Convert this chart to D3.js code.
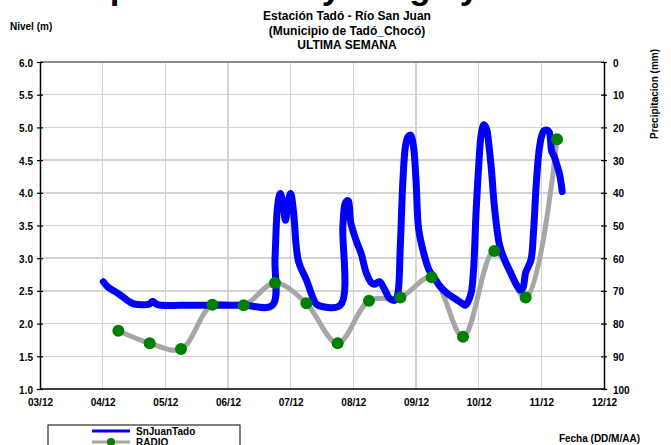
<!DOCTYPE html>
<meta charset="utf-8">
<style>
body { margin: 0; background: #fff; }
text { font-family: "Liberation Sans", Arial, sans-serif; font-weight: bold; fill: #000; }
.grid line { stroke: #d4d4d4; stroke-width: 1.5px; shape-rendering: crispEdges; }
</style>
<body>
<div id="draw"></div>
<script src="https://d3js.org/d3.v7.min.js"></script>
<script>

// fechas limites del eje (DD/MM HH:MM)
var fechaIni = "03/12 00:00",
    fechaFin = "12/12 00:00";

var fechaTicks = ["03/12","04/12","05/12","06/12","07/12","08/12","09/12","10/12","11/12","12/12"];
var nivelTicks = [1.0,1.5,2.0,2.5,3.0,3.5,4.0,4.5,5.0,5.5,6.0];
var precTicks = [0,10,20,30,40,50,60,70,80,90,100];

// SnJuanTado - nivel (m)
var snJuanFecha = [
  "04/12 00:15","04/12 02:00","04/12 06:00","04/12 10:00","04/12 12:00","04/12 18:00","04/12 19:00","04/12 21:00",
  "05/12 06:00","05/12 18:00","06/12 06:00","06/12 17:00","06/12 18:00","06/12 19:00","06/12 20:00","06/12 21:00",
  "06/12 22:00","06/12 23:00","07/12 00:00","07/12 01:00","07/12 03:00","07/12 06:00","07/12 08:00","07/12 09:00",
  "07/12 10:00","07/12 19:00","07/12 20:00","07/12 21:00","07/12 22:00","07/12 23:00","08/12 01:00","08/12 03:00",
  "08/12 05:00","08/12 07:00","08/12 08:00","08/12 10:00","08/12 12:00","08/12 14:00","08/12 16:00","08/12 17:00",
  "08/12 18:00","08/12 19:00","08/12 20:00","08/12 21:00","08/12 22:00","08/12 23:00","09/12 00:00","09/12 01:00",
  "09/12 03:00","09/12 05:00","09/12 07:00","09/12 09:00","09/12 12:00","09/12 15:00","09/12 18:00","09/12 19:00",
  "09/12 21:00","09/12 22:00","09/12 23:00","10/12 00:00","10/12 01:00","10/12 02:00","10/12 03:00","10/12 04:00",
  "10/12 05:00","10/12 06:00","10/12 08:00","10/12 10:00","10/12 12:00","10/12 14:00","10/12 16:00","10/12 17:00",
  "10/12 18:00","10/12 20:00","10/12 21:00","10/12 22:00","10/12 23:00","11/12 00:00","11/12 01:00","11/12 02:00",
  "11/12 03:00","11/12 04:00","11/12 05:00","11/12 06:00","11/12 07:00","11/12 08:00"
];
var snJuanNivel = [
  2.64,2.56,2.46,2.34,2.30,2.30,2.34,2.29,
  2.28,2.28,2.28,2.28,3.00,3.80,3.99,3.85,
  3.58,3.85,3.99,3.75,2.95,2.67,2.45,2.35,
  2.29,2.28,3.50,3.85,3.88,3.55,3.28,3.07,
  2.77,2.62,2.60,2.64,2.52,2.38,2.36,2.45,
  3.20,4.20,4.72,4.86,4.88,4.72,4.20,3.45,
  3.07,2.82,2.70,2.58,2.46,2.38,2.30,2.28,
  2.45,2.80,3.70,4.40,4.90,5.04,4.98,4.70,
  4.30,3.80,3.20,2.97,2.80,2.63,2.51,2.55,
  2.78,2.97,3.40,4.10,4.60,4.85,4.95,4.96,
  4.93,4.63,4.55,4.42,4.28,4.02
];

// RADIO - nivel (m)
var radioFecha = [
  "04/12 06:00","04/12 18:00","05/12 06:00","05/12 18:00","06/12 06:00","06/12 18:00","07/12 06:00","07/12 18:00",
  "08/12 06:00","08/12 18:00","09/12 06:00","09/12 18:00","10/12 06:00","10/12 18:00","11/12 06:00"
];
var radioNivel = [1.89,1.70,1.61,2.29,2.28,2.62,2.31,1.70,2.35,2.40,2.71,1.80,3.11,2.40,4.82];

var parse = d3.timeParse("%d/%m %H:%M");

var margin = {top: 62, right: 67, bottom: 56, left: 40},
    width = 671 - margin.left - margin.right,
    height = 445 - margin.top - margin.bottom;

var svg = d3.select("#draw").append("svg")
    .attr("width", 671)
    .attr("height", 445);

var x = d3.scaleTime()
    .domain([parse(fechaIni), parse(fechaFin)])
    .range([0, width]);
var y = d3.scaleLinear().domain([1, 6]).range([height, 0]);
var yR = d3.scaleLinear().domain([0, 100]).range([0, height]);

// titulo superior (cortado por el borde)
svg.append("text")
    .attr("x", 32).attr("y", -1)
    .style("font-size", "35px")
    .text("Comportamiento y Carga y Nivel");

var title = ["Estación Tadó - Río San Juan", "(Municipio de Tadó_Chocó)", "ULTIMA SEMANA"];
svg.selectAll(".title")
    .data(title)
  .enter().append("text")
    .attr("class", "title")
    .attr("x", 347)
    .attr("y", function(d, i) { return 20 + i * 14.5; })
    .style("text-anchor", "middle")
    .style("font-size", "12px")
    .text(function(d) { return d; });

svg.append("text")
    .attr("x", 10).attr("y", 30)
    .style("font-size", "10px")
    .text("Nivel (m)");

svg.append("text")
    .attr("transform", "translate(658,94) rotate(-90)")
    .style("text-anchor", "middle")
    .style("font-size", "10px")
    .text("Precipitacion (mm)");

svg.append("text")
    .attr("x", 640).attr("y", 442)
    .style("text-anchor", "end")
    .style("font-size", "10px")
    .text("Fecha (DD/M/AA)");

var g = svg.append("g")
    .attr("transform", "translate(" + margin.left + "," + margin.top + ")");

// grid
var grid = g.append("g").attr("class", "grid");
grid.selectAll(".gy")
    .data(nivelTicks.slice(1, -1))
  .enter().append("line")
    .attr("x1", 0).attr("x2", width)
    .attr("y1", function(d) { return y(d); })
    .attr("y2", function(d) { return y(d); });
grid.selectAll(".gx")
    .data(fechaTicks.slice(1, -1))
  .enter().append("line")
    .attr("x1", function(d) { return x(parse(d + " 00:00")); })
    .attr("x2", function(d) { return x(parse(d + " 00:00")); })
    .attr("y1", 0).attr("y2", height);

g.append("line")
    .attr("x1", 0).attr("x2", width)
    .attr("y1", 0).attr("y2", 0)
    .attr("stroke", "#8c8c8c").attr("stroke-width", 2);

// axes
var yAxis = d3.axisLeft(y).tickValues(nivelTicks).tickFormat(d3.format(".1f")).tickSizeInner(3).tickSizeOuter(0);
var yAxisR = d3.axisRight(yR).tickValues(precTicks).tickFormat(d3.format("d")).tickSizeInner(3).tickSizeOuter(0);
var xAxis = d3.axisBottom(x)
    .tickValues(fechaTicks.map(function(d) { return parse(d + " 00:00"); }))
    .tickFormat(d3.timeFormat("%d/%m")).tickSize(0);

function styleAxis(sel) {
  sel.select(".domain").attr("stroke", "#000").attr("stroke-width", 1.5);
  sel.selectAll(".tick line").attr("stroke", "#000").attr("stroke-width", 1.2);
  sel.selectAll("text").style("font-size", "10px").style("font-weight", "bold")
     .style("font-family", "'Liberation Sans', Arial, sans-serif").attr("fill", "#000");
}

var ga = g.append("g").call(yAxis).call(styleAxis);
ga.selectAll(".tick line").attr("x1", 3);
ga.selectAll(".tick text").attr("x", -7).attr("dy", "0.4em");

var gr = g.append("g").attr("transform", "translate(" + width + ",0)").call(yAxisR).call(styleAxis);
gr.selectAll(".tick line").attr("x1", -3);
gr.selectAll(".tick text").attr("x", 9).attr("dy", "0.4em");

var gb = g.append("g").attr("transform", "translate(0," + height + ")").call(xAxis).call(styleAxis);
gb.select(".domain").remove();
gb.selectAll(".tick text").attr("y", 10);
g.append("line")
    .attr("x1", 0).attr("x2", width)
    .attr("y1", height).attr("y2", height)
    .attr("stroke", "#000").attr("stroke-width", 1.5);

// series
var snJuan = snJuanFecha.map(function(d, i) { return [parse(d), snJuanNivel[i]]; });
var radio = radioFecha.map(function(d, i) { return [parse(d), radioNivel[i]]; });

var line = d3.line()
    .x(function(d) { return x(d[0]); })
    .y(function(d) { return y(d[1]); })
    .curve(d3.curveCatmullRom);

g.append("path")
    .datum(radio)
    .attr("d", line)
    .attr("fill", "none")
    .attr("stroke", "#a6a6a6")
    .attr("stroke-width", 5)
    .attr("stroke-linejoin", "round");

g.append("path")
    .datum(snJuan)
    .attr("d", line)
    .attr("fill", "none")
    .attr("stroke", "#0000ff")
    .attr("stroke-width", 7)
    .attr("stroke-linejoin", "round")
    .attr("stroke-linecap", "round");

g.selectAll(".dot")
    .data(radio)
  .enter().append("circle")
    .attr("class", "dot")
    .attr("r", 6)
    .attr("cx", function(d) { return x(d[0]); })
    .attr("cy", function(d) { return y(d[1]); })
    .style("fill", "#008000");

// legend
var legend = svg.append("g");
legend.append("rect")
    .attr("x", 48).attr("y", 425)
    .attr("width", 192).attr("height", 30)
    .attr("fill", "#fff").attr("stroke", "#000").attr("stroke-width", 1);
legend.append("line")
    .attr("x1", 92).attr("x2", 130).attr("y1", 431).attr("y2", 431)
    .attr("stroke", "#0000ff").attr("stroke-width", 3);
legend.append("line")
    .attr("x1", 92).attr("x2", 130).attr("y1", 442).attr("y2", 442)
    .attr("stroke", "#a6a6a6").attr("stroke-width", 3);
legend.append("circle")
    .attr("cx", 111).attr("cy", 442).attr("r", 4).attr("fill", "#008000");
legend.append("text")
    .attr("x", 136).attr("y", 435)
    .style("font-size", "10px")
    .text("SnJuanTado");
legend.append("text")
    .attr("x", 136).attr("y", 446)
    .style("font-size", "10px")
    .text("RADIO");

</script>
